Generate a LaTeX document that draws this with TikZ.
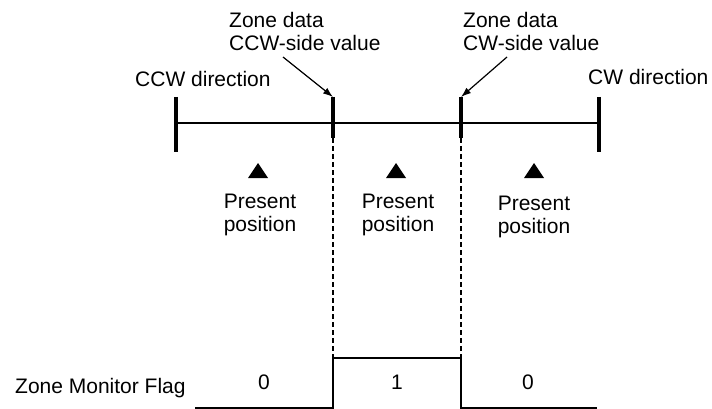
\documentclass[tikz,border=0pt]{standalone}
\usepackage{fontspec}
\setmainfont{Liberation Sans}
\usetikzlibrary{arrows.meta}
\begin{document}
\begin{tikzpicture}[x=1pt,y=-1pt,
  lbl/.style={inner sep=0pt,font=\fontsize{21}{23}\selectfont},
  scaleline/.style={line width=2.8pt},
  tickline/.style={line width=3.2pt},
  guide/.style={line width=1.3pt,dash pattern=on 5pt off 3pt},
  flagline/.style={line width=2.2pt},
  pointer/.style={line width=1.2pt,-{Latex[length=10pt,width=7pt]}},
  marker/.style={fill=black}]
\useasboundingbox (0,0) rectangle (712,409);
% scale coordinates
\coordinate (L) at (176,123);
\coordinate (R) at (599,123);
\coordinate (A) at (333,123);
\coordinate (B) at (461,123);
\coordinate (Ltop) at (176,97);
\coordinate (Lbot) at (176,152);
\coordinate (Rtop) at (599,97);
\coordinate (Rbot) at (599,152);
\coordinate (Atop) at (333,97);
\coordinate (Abot) at (333,138);
\coordinate (Btop) at (461,97);
\coordinate (Bbot) at (461,138);
% flag coordinates
\coordinate (F0) at (195,408);
\coordinate (F1) at (333,408);
\coordinate (F2) at (333,358);
\coordinate (F3) at (461,358);
\coordinate (F4) at (461,408);
\coordinate (F5) at (597,408);
% arrow starts
\coordinate (Pa) at (283,57);
\coordinate (Pb) at (507,57);

% texts
\node[lbl,anchor=north west,align=left] (zccw) at (229,11.8) {Zone data\\CCW-side value};
\node[lbl,anchor=north west,align=left] (zcw) at (463,11.8) {Zone data\\CW-side value};
\node[lbl,anchor=base west] (dccw) at (135,86.7) {CCW direction};
\node[lbl,anchor=base west] (dcw) at (588,85) {CW direction};
\node[lbl,anchor=north,align=center] (p1) at (260,194) {Present\\position};
\node[lbl,anchor=north,align=center] (p2) at (398,194) {Present\\position};
\node[lbl,anchor=north,align=center] (p3) at (534,196) {Present\\position};
\node[lbl,anchor=base west] (flag) at (15,393) {Zone Monitor Flag};
\node[lbl,anchor=base] (v1) at (264,389) {0};
\node[lbl,anchor=base] (v2) at (397,389) {1};
\node[lbl,anchor=base] (v3) at (528,389) {0};

% scale
\draw[scaleline] (L) -- (R);
\draw[tickline] (Ltop) -- (Lbot);
\draw[tickline] (Rtop) -- (Rbot);
\draw[tickline] (Atop) -- (Abot);
\draw[tickline] (Btop) -- (Bbot);
% guides
\draw[guide] (Abot) -- (F2);
\draw[guide] (Bbot) -- (F3);
% pointers
\draw[pointer] (Pa) -- (Atop);
\draw[pointer] (Pb) -- (Btop);
% markers
\fill[marker] (248,178) -- (258,163) -- (268,178) -- cycle;
\fill[marker] (386,178) -- (396,163) -- (406,178) -- cycle;
\fill[marker] (524,178) -- (534,163) -- (544,178) -- cycle;
% flag
\draw[flagline] (F0) -- (F1) -- (F2) -- (F3) -- (F4) -- (F5);
\end{tikzpicture}
\end{document}
